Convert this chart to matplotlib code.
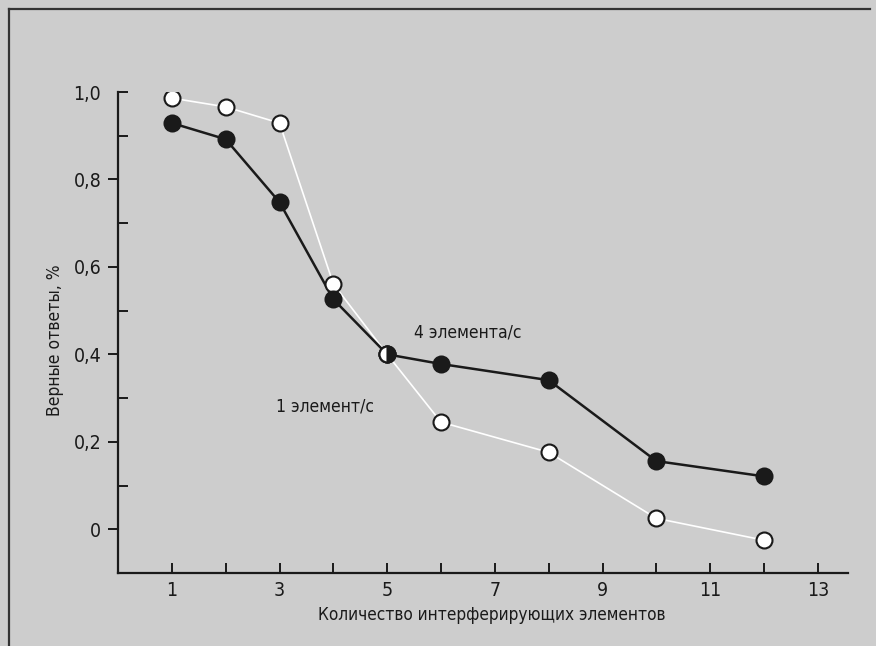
import matplotlib
matplotlib.use("Agg")
import matplotlib.pyplot as plt
from matplotlib.lines import Line2D
from matplotlib import font_manager
from matplotlib.font_manager import FontProperties

# Data: share of correct answers vs number of interfering items
x_items = [1, 2, 3, 4, 5, 6, 8, 10, 12]
rate_4 = [0.929, 0.892, 0.748, 0.526, 0.400, 0.378, 0.341, 0.156, 0.121]   # 4 элемента/с
rate_1 = [0.986, 0.966, 0.929, 0.561, 0.400, 0.245, 0.176, 0.025, -0.025]  # 1 элемент/с

y_major = [0, 0.2, 0.4, 0.6, 0.8]
y_major_labels = ["0", "0,2", "0,4", "0,6", "0,8"]
y_minor = [0.1, 0.3, 0.5, 0.7, 0.9, 1.0]
y_minor_labels = ["", "", "", "", "", "1,0"]
x_major = [1, 3, 5, 7, 9, 11, 13]
x_minor = [2, 4, 6, 8, 10, 12]

label_4 = "4 элемента/с"
label_1 = "1 элемент/с"
x_title = "Количество интерферирующих элементов"
y_title = "Верные ответы, %"

# prefer a narrow / condensed sans face if one is installed
narrow = None
for f in font_manager.fontManager.ttflist:
    fn = f.fname.lower()
    if ("narrow" in fn or "condensed" in fn) and "bold" not in fn and "oblique" not in fn \
            and "italic" not in fn and "light" not in fn:
        narrow = f.fname
        break
if narrow:
    fp = FontProperties(fname=narrow)
else:
    fp = FontProperties(family="Liberation Sans")

bg = "#cdcdcd"
ink = "#1a1a1a"

fig = plt.figure(figsize=(8.76, 6.46), dpi=100, facecolor=bg)
ax = fig.add_axes([118 / 876, 73 / 646, (848 - 118) / 876, (573 - 92) / 646])
ax.set_facecolor(bg)

ax.set_xlim(0, 13.56)
ax.set_ylim(-0.1, 1.0)

for s in ("top", "right"):
    ax.spines[s].set_visible(False)
for s in ("left", "bottom"):
    ax.spines[s].set_linewidth(1.6)
    ax.spines[s].set_color(ink)

# open-circle series: thin white connecting line
ax.plot(x_items, rate_1, color="white", lw=1.2, zorder=2)
# filled series: black line
ax.plot(x_items, rate_4, color=ink, lw=1.8, zorder=3)

ax.plot(x_items, rate_1, linestyle="none", marker="o", markersize=11.5,
        markerfacecolor="white", markeredgecolor=ink, markeredgewidth=1.5, zorder=4)
ax.plot(x_items, rate_4, linestyle="none", marker="o", markersize=11.5,
        markerfacecolor=ink, markeredgecolor=ink, markeredgewidth=1.5, zorder=5)
# shared point at 5: half white, half black
ax.plot([x_items[4]], [rate_4[4]], linestyle="none", marker="o", markersize=11.5,
        fillstyle="right", markerfacecolor=ink, markerfacecoloralt="white",
        markeredgecolor=ink, markeredgewidth=1.5, zorder=6)

ax.set_yticks(y_major, y_major_labels)
ax.set_yticks(y_minor, y_minor_labels, minor=True)
ax.tick_params(axis="y", which="major", direction="out", length=7, width=1.4,
               color=ink, labelcolor=ink, pad=5)
ax.tick_params(axis="y", which="minor", direction="in", length=7, width=1.4,
               color=ink, labelcolor=ink, pad=12)

ax.set_xticks(x_major, [str(v) for v in x_major])
ax.set_xticks(x_minor, minor=True)
ax.tick_params(axis="x", which="both", direction="in", length=7, width=1.4,
               color=ink, labelcolor=ink, pad=6)

for lab in ax.get_xticklabels() + ax.get_yticklabels() + ax.get_yticklabels(minor=True):
    lab.set_fontproperties(fp)
    lab.set_fontsize(14)

ax.text(5.5, 0.450, label_4, fontproperties=fp, fontsize=12.5, color=ink,
        ha="left", va="center")
ax.text(2.93, 0.280, label_1, fontproperties=fp, fontsize=12.5, color=ink,
        ha="left", va="center")

fig.text(492 / 876, 1 - 615 / 646, x_title, fontproperties=fp, fontsize=12.3, color=ink,
         ha="center", va="center")
fig.text(55 / 876, 1 - 340 / 646, y_title, fontproperties=fp, fontsize=12.5, color=ink,
         ha="center", va="center", rotation=90)

# outer frame lines (left and top)
fig.add_artist(Line2D([9 / 876, 9 / 876], [0, 1 - 9 / 646], transform=fig.transFigure,
                      color="#333333", lw=1.6))
fig.add_artist(Line2D([9 / 876, 870 / 876], [1 - 9 / 646, 1 - 9 / 646],
                      transform=fig.transFigure, color="#333333", lw=1.6))

fig.savefig("out.png", dpi=100, facecolor=bg)
